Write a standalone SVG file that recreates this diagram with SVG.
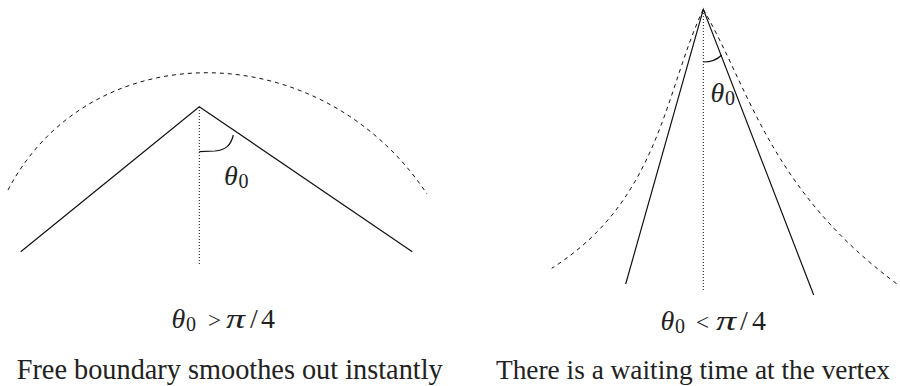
<svg xmlns="http://www.w3.org/2000/svg" width="900" height="386" viewBox="0 0 900 386">
<style>
.solid{fill:none;stroke:#111;stroke-width:1.2}
.dash{fill:none;stroke:#111;stroke-width:1;stroke-dasharray:4 4}
.dot{fill:none;stroke:#111;stroke-width:1;stroke-dasharray:1 2}
.t{font-family:"Liberation Serif",serif;fill:#222}
.m{font-family:"Liberation Serif",serif;fill:#222;font-size:28px}
.it{font-style:italic}
.sub{font-size:20px}
.rel{font-size:23px}
</style>
<rect width="900" height="386" fill="#fff"/>
<g id="left-figure">
  <path class="dash" d="M8,190 C90,33 320,33 427,194"/>
  <path class="solid" d="M20.7,251.7 L199.3,106.7 L412.3,251.7"/>
  <path class="dot" d="M199.3,107 L199.3,266"/>
  <path class="solid" d="M199.3,151.7 L215,151 C226,150 231,145 233.3,135"/>
  <text class="m"><tspan class="it" x="224" y="185">θ</tspan><tspan class="sub" x="238.5" y="188">0</tspan></text>
</g>
<g id="right-figure">
  <path class="dash" d="M703.3,9.3 C665,90 660,200 551.7,268.3"/>
  <path class="dash" d="M703.3,9.3 C750,90 770,190 898.3,285"/>
  <path class="solid" d="M625.7,284 L703.3,9.3 L813.7,295"/>
  <path class="dot" d="M703.3,10 L703.3,292"/>
  <path class="solid" d="M703.3,62 Q715,62 721.7,55"/>
  <text class="m"><tspan class="it" x="710.5" y="101.7">θ</tspan><tspan class="sub" x="725" y="104.5">0</tspan></text>
</g>
<g id="captions">
  <text class="m"><tspan class="it" x="171.5" y="328">θ</tspan><tspan class="sub" x="186" y="331">0</tspan><tspan class="rel" x="208" y="328">&gt;</tspan><tspan class="it" x="226" y="328" textLength="19" lengthAdjust="spacingAndGlyphs">π</tspan><tspan x="250" y="328">/</tspan><tspan x="261" y="328">4</tspan></text>
  <text class="m"><tspan class="it" x="660.5" y="330">θ</tspan><tspan class="sub" x="675" y="333">0</tspan><tspan class="rel" x="696" y="330">&lt;</tspan><tspan class="it" x="716" y="330" textLength="20" lengthAdjust="spacingAndGlyphs">π</tspan><tspan x="740" y="330">/</tspan><tspan x="752" y="330">4</tspan></text>
  <text class="t" x="16.7" y="379" font-size="30" textLength="426" lengthAdjust="spacingAndGlyphs">Free boundary smoothes out instantly</text>
  <text class="t" x="496" y="379" font-size="27.5" textLength="394" lengthAdjust="spacingAndGlyphs">There is a waiting time at the vertex</text>
</g>
</svg>
